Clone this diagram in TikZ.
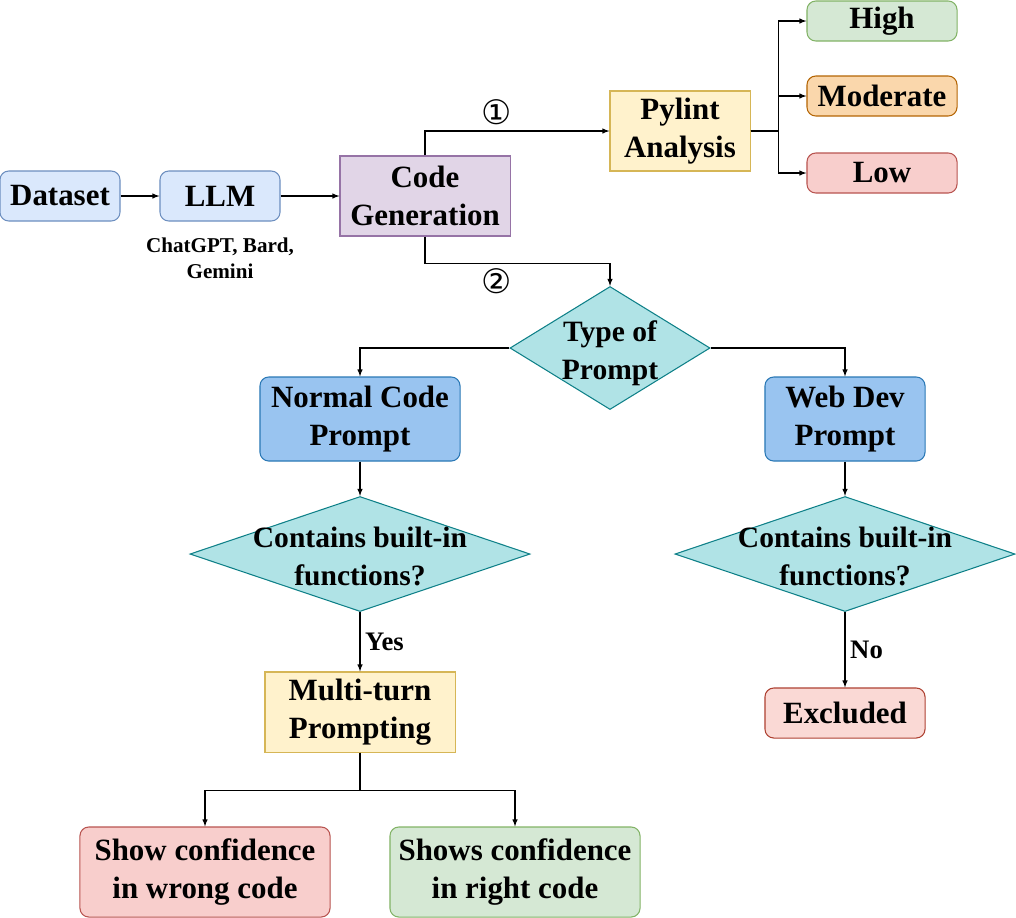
\documentclass[tikz,border=0pt]{standalone}
\usepackage{fontspec}
\setmainfont{Liberation Serif}
\newfontfamily\circfont{DejaVu Sans}
\usepackage{tikz}
\usetikzlibrary{shapes,arrows}
\definecolor{bluefill}{HTML}{DAE8FC}
\definecolor{blueline}{HTML}{6C8EBF}
\definecolor{purplefill}{HTML}{E1D5E7}
\definecolor{purpleline}{HTML}{9673A6}
\definecolor{yellowfill}{HTML}{FFF2CC}
\definecolor{yellowline}{HTML}{D6B656}
\definecolor{greenfill}{HTML}{D5E8D4}
\definecolor{greenline}{HTML}{82B366}
\definecolor{orangefill}{HTML}{FAD7AC}
\definecolor{orangeline}{HTML}{B46504}
\definecolor{redfill}{HTML}{F8CECC}
\definecolor{redline}{HTML}{B85450}
\definecolor{tealfill}{HTML}{B0E3E6}
\definecolor{tealline}{HTML}{0E8088}
\definecolor{promptfill}{HTML}{99C4F0}
\definecolor{promptline}{HTML}{2A78B5}
\definecolor{exclfill}{HTML}{FAD9D5}
\definecolor{exclline}{HTML}{AE4132}
\newcommand{\largebf}{\fontsize{22}{27.5}\selectfont\bfseries}
\newcommand{\diabf}{\fontsize{21}{26.5}\selectfont\bfseries}
\newcommand{\diatext}[1]{\makebox[0pt]{\raisebox{-0.42em}[0pt][0pt]{\begin{tabular}{@{}c@{}}#1\end{tabular}}}}
\tikzset{
	box/.style      = {draw, rectangle, inner sep=0pt, align=center, font=\largebf},
	rbox/.style     = {box, rounded corners=0.22cm},
	dec/.style      = {draw=tealline, fill=tealfill, diamond, inner sep=0pt, font=\diabf},
	note/.style     = {inner sep=0pt, align=center, font=\fontsize{15}{18.5}\selectfont\bfseries},
	lab/.style      = {font=\fontsize{19}{22}\selectfont\bfseries},
	num/.style      = {inner sep=0pt, font=\fontsize{24}{26}\circfont}
}

\begin{document}
\begin{tikzpicture}[auto, x=0.025cm, y=-0.025cm, line width=0.75pt, >=latex]
	\useasboundingbox (0,0) rectangle (1016,917);
	\draw
	% Drawing the blocks of the generation stage
	node at (60,196)[rbox, fill=bluefill, draw=blueline, minimum width=3cm, minimum height=1.25cm] (ds) {Dataset}
	node at (220,196)[rbox, fill=bluefill, draw=blueline, minimum width=3cm, minimum height=1.25cm] (llm) {LLM}
	node at (220,258)[note] (llmnote) {ChatGPT, Bard,\\Gemini}
	node at (425,196)[box, fill=purplefill, draw=purpleline, minimum width=4.25cm, minimum height=2cm] (cg) {Code\\Generation}
	% Drawing the blocks of the pylint branch
	node at (680,131)[box, fill=yellowfill, draw=yellowline, minimum width=3.5cm, minimum height=2cm] (pa) {Pylint\\Analysis}
	node at (882,21)[rbox, fill=greenfill, draw=greenline, minimum width=3.75cm, minimum height=1cm] (hi) {High}
	node at (882,96)[rbox, fill=orangefill, draw=orangeline, minimum width=3.75cm, minimum height=1cm] (mod) {Moderate}
	node at (882,173)[rbox, fill=redfill, draw=redline, minimum width=3.75cm, minimum height=1cm] (low) {Low}
	node at (497,112)[num] (n1) {①}
	node at (497,281)[num] (n2) {②}
	% Drawing the blocks of the prompt branch
	node at (610,348)[dec, minimum width=5cm, minimum height=3.075cm] (tp) {\diatext{Type of\\Prompt}}
	node at (360,419)[rbox, fill=promptfill, draw=promptline, minimum width=5cm, minimum height=2.1cm] (ncp) {Normal Code\\Prompt}
	node at (845,419)[rbox, fill=promptfill, draw=promptline, minimum width=4cm, minimum height=2.1cm] (wdp) {Web Dev\\Prompt}
	node at (360,554)[dec, minimum width=8.5cm, minimum height=2.875cm] (bf1) {\diatext{Contains built-in\\functions?}}
	node at (845,554)[dec, minimum width=8.5cm, minimum height=2.875cm] (bf2) {\diatext{Contains built-in\\functions?}}
	node at (360,712)[box, fill=yellowfill, draw=yellowline, minimum width=4.75cm, minimum height=2cm] (mtp) {Multi-turn\\Prompting}
	node at (845,713)[rbox, fill=exclfill, draw=exclline, minimum width=4cm, minimum height=1.25cm] (exc) {Excluded}
	node at (205,872)[rbox, fill=redfill, draw=redline, minimum width=6.25cm, minimum height=2.25cm] (scw) {Show confidence\\in wrong code}
	node at (515,872)[rbox, fill=greenfill, draw=greenline, minimum width=6.25cm, minimum height=2.25cm] (scr) {Shows confidence\\in right code}
	;

	\draw[->](ds) -- (llm);
	\draw[->](llm) -- (cg);
	\draw[->](cg.north) |- (pa);
	\draw[->](pa.east) -- ++(28,0) |- (hi);
	\draw[->](pa.east) -- ++(28,0) |- (mod);
	\draw[->](pa.east) -- ++(28,0) |- (low);
	\draw[->](cg.south) -- ++(0,27) -| (tp);
	\draw[->](tp) -| (ncp);
	\draw[->](tp) -| (wdp);
	\draw[->](ncp) -- (bf1);
	\draw[->](wdp) -- (bf2);
	\draw[->](bf1) -- node[lab, right] (yes) {Yes} (mtp);
	\draw[->](bf2) -- node[lab, right] (no) {No} (exc);
	\draw[->](mtp.south) -- ++(0,38) -| (scw);
	\draw[->](mtp.south) -- ++(0,38) -| (scr);
\end{tikzpicture}
\end{document}
